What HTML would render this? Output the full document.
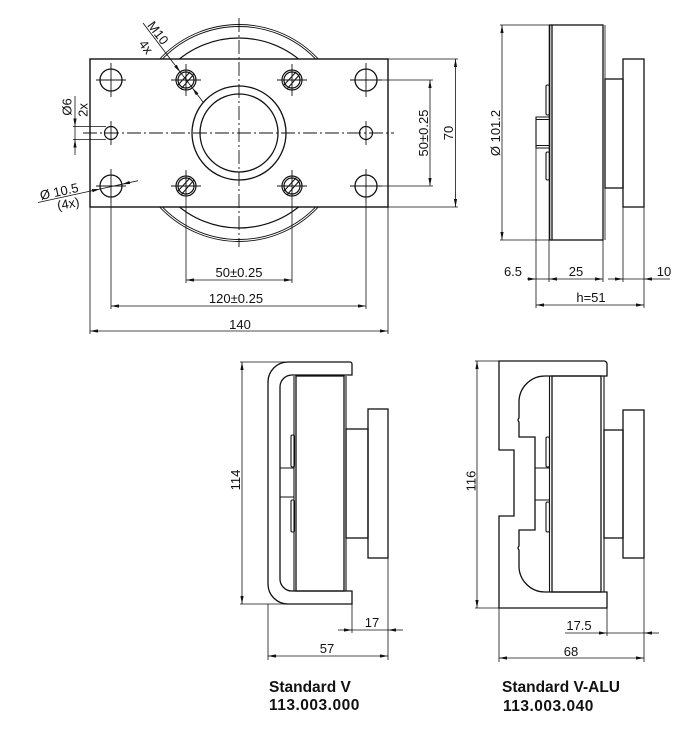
<!DOCTYPE html>
<html>
<head>
<meta charset="utf-8">
<style>
html,body{margin:0;padding:0;background:#fff;}
svg{display:block;}
text{font-family:"Liberation Sans",Arial,sans-serif;fill:#111;}
.d{font-size:13px;}
.lbl{font-size:15.5px;font-weight:bold;}
</style>
</head>
<body>
<svg width="700" height="729" viewBox="0 0 700 729" xmlns="http://www.w3.org/2000/svg">
<defs>
<marker id="a" viewBox="0 0 10 10" refX="10" refY="5" markerWidth="8" markerHeight="8" markerUnits="userSpaceOnUse" orient="auto-start-reverse">
<path d="M0,3 L10,5 L0,7 z" fill="#111"/>
</marker>
</defs>

<!-- ============ TOP-LEFT VIEW ============ -->
<g fill="none" stroke="#111">
  <!-- flange behind -->
  <circle cx="239" cy="133" r="108.5" stroke-width="0.9"/>
  <circle cx="239" cy="133" r="106.5" stroke-width="0.9"/>
  <circle cx="239" cy="133" r="95" stroke-width="1.2"/>
  <!-- plate -->
  <rect x="90" y="59" width="298" height="148" fill="#fff" stroke-width="1.4"/>
  <!-- center bore -->
  <circle cx="239" cy="133" r="47" stroke-width="1.3"/>
  <circle cx="239" cy="133" r="39" stroke-width="1.3"/>
  <!-- big holes -->
  <circle cx="111" cy="80" r="11" stroke-width="1.3"/>
  <circle cx="366" cy="80" r="11" stroke-width="1.3"/>
  <circle cx="111" cy="186" r="11" stroke-width="1.3"/>
  <circle cx="366" cy="186" r="11" stroke-width="1.3"/>
  <!-- small holes -->
  <circle cx="111" cy="133" r="6.5" stroke-width="1.2"/>
  <circle cx="366" cy="133" r="6.5" stroke-width="1.2"/>
  <!-- M10 holes -->
  <g stroke-width="1.2">
    <circle cx="186" cy="80" r="10"/><circle cx="186" cy="80" r="8"/>
    <circle cx="292" cy="80" r="10"/><circle cx="292" cy="80" r="8"/>
    <circle cx="186" cy="186" r="10"/><circle cx="186" cy="186" r="8"/>
    <circle cx="292" cy="186" r="10"/><circle cx="292" cy="186" r="8"/>
  </g>
  <g stroke-width="1">
    <path d="M181,89 L194,74 M178,85 L190,72"/>
    <path d="M287,89 L300,74 M284,85 L296,72"/>
    <path d="M181,195 L194,180 M178,191 L190,178"/>
    <path d="M287,195 L300,180 M284,191 L296,178"/>
  </g>
  <!-- crosshairs -->
  <g stroke-width="0.9">
    <path d="M96,80 H126 M111,63 V97"/>
    <path d="M350,80 H382 M366,63 V97"/>
    <path d="M96,186 H126 M111,169 V203"/>
    <path d="M350,186 H382 M366,169 V203"/>
    <path d="M171,80 H201 M186,64 V96"/>
    <path d="M277,80 H307 M292,64 V96"/>
    <path d="M171,186 H201 M186,170 V196"/>
    <path d="M277,186 H307 M292,170 V196"/>
    <path d="M111,121 V145 M366,121 V145"/>
  </g>
  <!-- center lines -->
  <g stroke-width="0.9" stroke-dasharray="14 3 2 3">
    <path d="M83,133 H394"/>
    <path d="M239,18 V247"/>
  </g>
  <!-- extension lines bottom -->
  <g stroke-width="0.8">
    <path d="M186,196 V283 M292,196 V283"/>
    <path d="M111,203 V309 M366,203 V309"/>
    <path d="M90,207 V334 M388,207 V334"/>
    <!-- right -->
    <path d="M382,80 H433 M382,186 H433"/>
    <path d="M388,59 H458 M388,207 H458"/>
    <!-- Ø6 -->
    <path d="M73,126.5 H106 M73,139.5 H106"/>
  </g>
  <!-- dimension lines -->
  <g stroke-width="0.8" marker-start="url(#a)" marker-end="url(#a)">
    <line x1="186" y1="280" x2="292" y2="280"/>
    <line x1="111" y1="306" x2="366" y2="306"/>
    <line x1="90" y1="331" x2="388" y2="331"/>
    <line x1="430" y1="80" x2="430" y2="186"/>
    <line x1="455.5" y1="59" x2="455.5" y2="207"/>
  </g>
  <g stroke-width="0.8">
    <line x1="75" y1="96" x2="75" y2="126.5" marker-end="url(#a)"/>
    <line x1="75" y1="126.5" x2="75" y2="139.5"/>
    <line x1="75" y1="155" x2="75" y2="139.5" marker-end="url(#a)"/>
    <!-- Ø10.5 leader -->
    <line x1="38" y1="202.5" x2="100" y2="189" marker-end="url(#a)"/>
    <line x1="100" y1="189" x2="122" y2="184.2"/>
    <line x1="138" y1="180.7" x2="122" y2="184.2" marker-end="url(#a)"/>
    <!-- M10 leader -->
    <line x1="143" y1="23" x2="180.3" y2="72.1" marker-end="url(#a)"/>
    <line x1="180.3" y1="72.1" x2="192.4" y2="88"/>
    <line x1="203" y1="102" x2="192.4" y2="88" marker-end="url(#a)"/>
  </g>
</g>
<g class="d">
  <text x="239" y="277" text-anchor="middle">50±0.25</text>
  <text x="236" y="303" text-anchor="middle">120±0.25</text>
  <text x="240" y="329" text-anchor="middle">140</text>
  <text transform="translate(428,133) rotate(-90)" text-anchor="middle">50±0.25</text>
  <text transform="translate(453,133) rotate(-90)" text-anchor="middle">70</text>
  <text transform="translate(71.5,107) rotate(-90)" text-anchor="middle">Ø6</text>
  <text transform="translate(87.5,110) rotate(-90)" text-anchor="middle">2x</text>
  <text transform="translate(41,200) rotate(-12.2)">Ø 10.5</text>
  <text transform="translate(58,210) rotate(-10)">(4x)</text>
  <text transform="translate(146.8,25.5) rotate(52.8)">M10</text>
  <text transform="translate(138.3,44.1) rotate(52.8)">4x</text>
</g>

<!-- ============ TOP-RIGHT VIEW ============ -->
<g fill="none" stroke="#111">
  <rect x="552" y="25" width="51" height="215" stroke-width="1.3"/>
  <line x1="549.5" y1="25" x2="549.5" y2="240" stroke-width="1.6"/>
  <path d="M549,25 H552 M549,240 H552" stroke-width="1.2"/>
  <line x1="605" y1="25" x2="605" y2="240" stroke-width="0.8"/>
  <rect x="546" y="85" width="3.5" height="30" rx="1.5" stroke-width="1.1"/>
  <rect x="546" y="152" width="3.5" height="28" rx="1.5" stroke-width="1.1"/>
  <path d="M549,117 H536 V148 H549 M536,119.5 H549 M536,145.5 H549" stroke-width="1.1"/>
  <rect x="605" y="79" width="18" height="109" stroke-width="1.3"/>
  <rect x="623" y="59" width="21" height="148" stroke-width="1.3"/>
  <!-- extension -->
  <g stroke-width="0.8">
    <path d="M500,25 H549 M500,240 H549"/>
    <path d="M536,148 V308 M549,240 V282 M603,240 V282 M623,207 V282 M644,207 V308"/>
  </g>
  <g stroke-width="0.8">
    <line x1="502" y1="25" x2="502" y2="240" marker-start="url(#a)" marker-end="url(#a)"/>
    <line x1="527" y1="279" x2="536" y2="279" marker-end="url(#a)"/>
    <line x1="536" y1="279" x2="549" y2="279"/>
    <line x1="549" y1="279" x2="603" y2="279" marker-start="url(#a)" marker-end="url(#a)"/>
    <line x1="608" y1="279" x2="623" y2="279" marker-end="url(#a)"/>
    <line x1="623" y1="279" x2="644" y2="279"/>
    <line x1="644" y1="279" x2="670" y2="279" marker-start="url(#a)"/>
    <line x1="536" y1="305" x2="644" y2="305" marker-start="url(#a)" marker-end="url(#a)"/>
  </g>
</g>
<g class="d">
  <text transform="translate(500,133) rotate(-90)" text-anchor="middle">Ø 101.2</text>
  <text x="513" y="276" text-anchor="middle">6.5</text>
  <text x="576" y="276" text-anchor="middle">25</text>
  <text x="664" y="276" text-anchor="middle">10</text>
  <text x="591" y="302" text-anchor="middle">h=51</text>
</g>

<!-- ============ BOTTOM-LEFT VIEW (Standard V) ============ -->
<g fill="none" stroke="#111">
  <path d="M350,362 H288 A20,20 0 0 0 268,382 V584 A20,20 0 0 0 288,604 H352 V591 H292 A12,12 0 0 1 280,579 V387 A12,12 0 0 1 292,375 H352 V364 A2,2 0 0 0 350,362 Z" stroke-width="1.3"/>
  <rect x="296" y="376" width="48" height="215" stroke-width="1.3"/>
  <path d="M294,376 V591 M346,376 V591" stroke-width="1.1"/>
  <rect x="291" y="435" width="3.5" height="32" rx="1.5" stroke-width="1.1"/>
  <rect x="291" y="500" width="3.5" height="32" rx="1.5" stroke-width="1.1"/>
  <path d="M280,468 H294 M280,497 H294" stroke-width="1.1"/>
  <rect x="346" y="429" width="22" height="109" stroke-width="1.3"/>
  <rect x="368" y="409" width="20" height="149" stroke-width="1.3"/>
  <g stroke-width="0.8">
    <path d="M240,362 H288 M240,604 H288"/>
    <path d="M352,604 V633 M388,558 V660 M268,604 V660"/>
    <line x1="242" y1="362" x2="242" y2="604" marker-start="url(#a)" marker-end="url(#a)"/>
    <line x1="338" y1="630" x2="352" y2="630" marker-end="url(#a)"/>
    <line x1="352" y1="630" x2="388" y2="630"/>
    <line x1="388" y1="630" x2="403" y2="630" marker-start="url(#a)"/>
    <line x1="268" y1="656" x2="388" y2="656" marker-start="url(#a)" marker-end="url(#a)"/>
  </g>
</g>
<g class="d">
  <text transform="translate(240,480) rotate(-90)" text-anchor="middle">114</text>
  <text x="372" y="627" text-anchor="middle">17</text>
  <text x="327" y="653" text-anchor="middle">57</text>
</g>
<text class="lbl" x="269" y="692">Standard V</text>
<text class="lbl" x="269" y="710" letter-spacing="0.5">113.003.000</text>

<!-- ============ BOTTOM-RIGHT VIEW (Standard V-ALU) ============ -->
<g fill="none" stroke="#111">
  <path d="M499,361 H604 A3,3 0 0 1 607,364 V376 H545 A26,26 0 0 0 519,402 V418 Q517,420 519,422 V437 H535 V530 H519 V546 Q517,548 519,550 V566 A26,26 0 0 0 545,592 H607 V608 H499 V516 H514 V450 H499 Z" stroke-width="1.3"/>
  <rect x="552" y="376" width="49" height="216" stroke-width="1.3"/>
  <path d="M549.5,376 V592 M604,376 V592" stroke-width="1.1"/>
  <rect x="546" y="437" width="3.5" height="30" rx="1.5" stroke-width="1.1"/>
  <rect x="546" y="502" width="3.5" height="30" rx="1.5" stroke-width="1.1"/>
  <path d="M535,468 H549 M535,500 H549" stroke-width="1.1"/>
  <rect x="604" y="430" width="19" height="108" stroke-width="1.3"/>
  <rect x="623" y="410" width="21" height="148" stroke-width="1.3"/>
  <g stroke-width="0.8">
    <path d="M475,361 H499 M475,608 H499"/>
    <path d="M607,608 V636 M644,558 V662 M499,608 V662"/>
    <line x1="477" y1="361" x2="477" y2="608" marker-start="url(#a)" marker-end="url(#a)"/>
    <line x1="565" y1="633" x2="607" y2="633" marker-end="url(#a)"/>
    <line x1="607" y1="633" x2="644" y2="633"/>
    <line x1="644" y1="633" x2="659" y2="633" marker-start="url(#a)"/>
    <line x1="499" y1="658" x2="644" y2="658" marker-start="url(#a)" marker-end="url(#a)"/>
  </g>
</g>
<g class="d">
  <text transform="translate(475.5,481) rotate(-90)" text-anchor="middle">116</text>
  <text x="579" y="630" text-anchor="middle">17.5</text>
  <text x="571" y="656" text-anchor="middle">68</text>
</g>
<text class="lbl" x="502" y="692">Standard V-ALU</text>
<text class="lbl" x="503" y="711" letter-spacing="0.5">113.003.040</text>
</svg>
</body>
</html>
